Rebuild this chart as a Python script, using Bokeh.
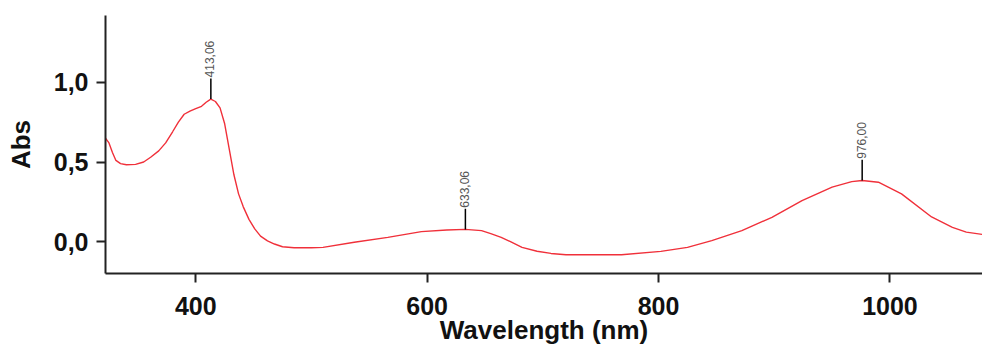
import math
from bokeh.plotting import figure
from bokeh.models import Range1d, FixedTicker
from bokeh.core.properties import value
from bokeh.embed import file_html
from bokeh.resources import INLINE

wavelength = [322, 325, 328, 331, 335, 340, 348, 355, 361, 368, 374, 380, 385, 390, 395,
              400, 405, 409, 413, 417, 421, 425, 429, 433, 437, 441, 446, 451, 456, 462,
              468, 475, 485, 500, 510, 537, 566, 595, 617, 633, 647, 655, 664, 672, 682,
              695, 707, 720, 768, 802, 825, 846, 872, 898, 924, 950, 967, 976, 990, 1010,
              1036, 1054, 1066, 1080]
absorbance = [0.65, 0.62, 0.56, 0.51, 0.49, 0.483, 0.485, 0.50, 0.53, 0.57, 0.62, 0.69, 0.75, 0.80, 0.82,
              0.835, 0.85, 0.875, 0.895, 0.88, 0.84, 0.74, 0.58, 0.42, 0.30, 0.22, 0.14, 0.08, 0.035, 0.005,
              -0.015, -0.032, -0.038, -0.038, -0.036, -0.004, 0.027, 0.063, 0.073, 0.077, 0.069, 0.05, 0.027, 0.0, -0.036,
              -0.06, -0.074, -0.082, -0.082, -0.061, -0.036, 0.006, 0.069, 0.153, 0.258, 0.342, 0.377, 0.384, 0.373, 0.30,
              0.155, 0.09, 0.06, 0.045]

peak_x = [413.06, 633.06, 976.00]
peak_y = [0.895, 0.077, 0.384]
peak_labels = ["413,06", "633,06", "976,00"]
marker_len = 0.13

x_ticks = [400, 600, 800, 1000]
y_ticks = [0.0, 0.5, 1.0]
y_tick_labels = {0.0: "0,0", 0.5: "0,5", 1.0: "1,0"}

p = figure(width=982, height=347, output_backend="svg", toolbar_location=None,
           x_range=Range1d(322, 1080), y_range=Range1d(-0.2, 1.42),
           min_border_left=105, min_border_right=0, min_border_top=15, min_border_bottom=74)
p.outline_line_color = None
p.grid.visible = False
p.background_fill_color = "white"

p.line(wavelength, absorbance, line_color="#f0303a", line_width=1.4)

tops = [y + marker_len for y in peak_y]
p.segment(x0=peak_x, y0=peak_y, x1=peak_x, y1=tops, line_color="black", line_width=1.5)
p.text(x=peak_x, y=tops, text=peak_labels, angle=math.pi / 2,
       text_align="left", text_baseline="middle", x_offset=-1, y_offset=-1,
       text_font=value("Liberation Sans"), text_font_size="12px", text_color="#555555")

for ax in (p.xaxis[0], p.yaxis[0]):
    ax.axis_line_width = 2
    ax.axis_line_color = "#222222"
    ax.major_tick_line_width = 2
    ax.major_tick_line_color = "#222222"
    ax.major_tick_out = 9
    ax.major_tick_in = 0
    ax.minor_tick_line_color = None
    ax.major_label_text_font = "Liberation Sans"
    ax.major_label_text_font_style = "bold"
    ax.major_label_text_font_size = "25px"
    ax.major_label_text_color = "#111111"
    ax.axis_label_text_font = "Liberation Sans"
    ax.axis_label_text_font_style = "bold"
    ax.axis_label_text_font_size = "26px"
    ax.axis_label_text_color = "#111111"

p.xaxis.ticker = FixedTicker(ticks=x_ticks)
p.yaxis.ticker = FixedTicker(ticks=y_ticks)
p.yaxis.major_label_overrides = y_tick_labels
p.xaxis.axis_label = "Wavelength (nm)"
p.yaxis.axis_label = "Abs"
p.xaxis.major_label_standoff = 14
p.yaxis.major_label_standoff = 8
p.xaxis.axis_label_standoff = -3
p.yaxis.axis_label_standoff = 15

open("out.html", "w").write(file_html(p, INLINE))
